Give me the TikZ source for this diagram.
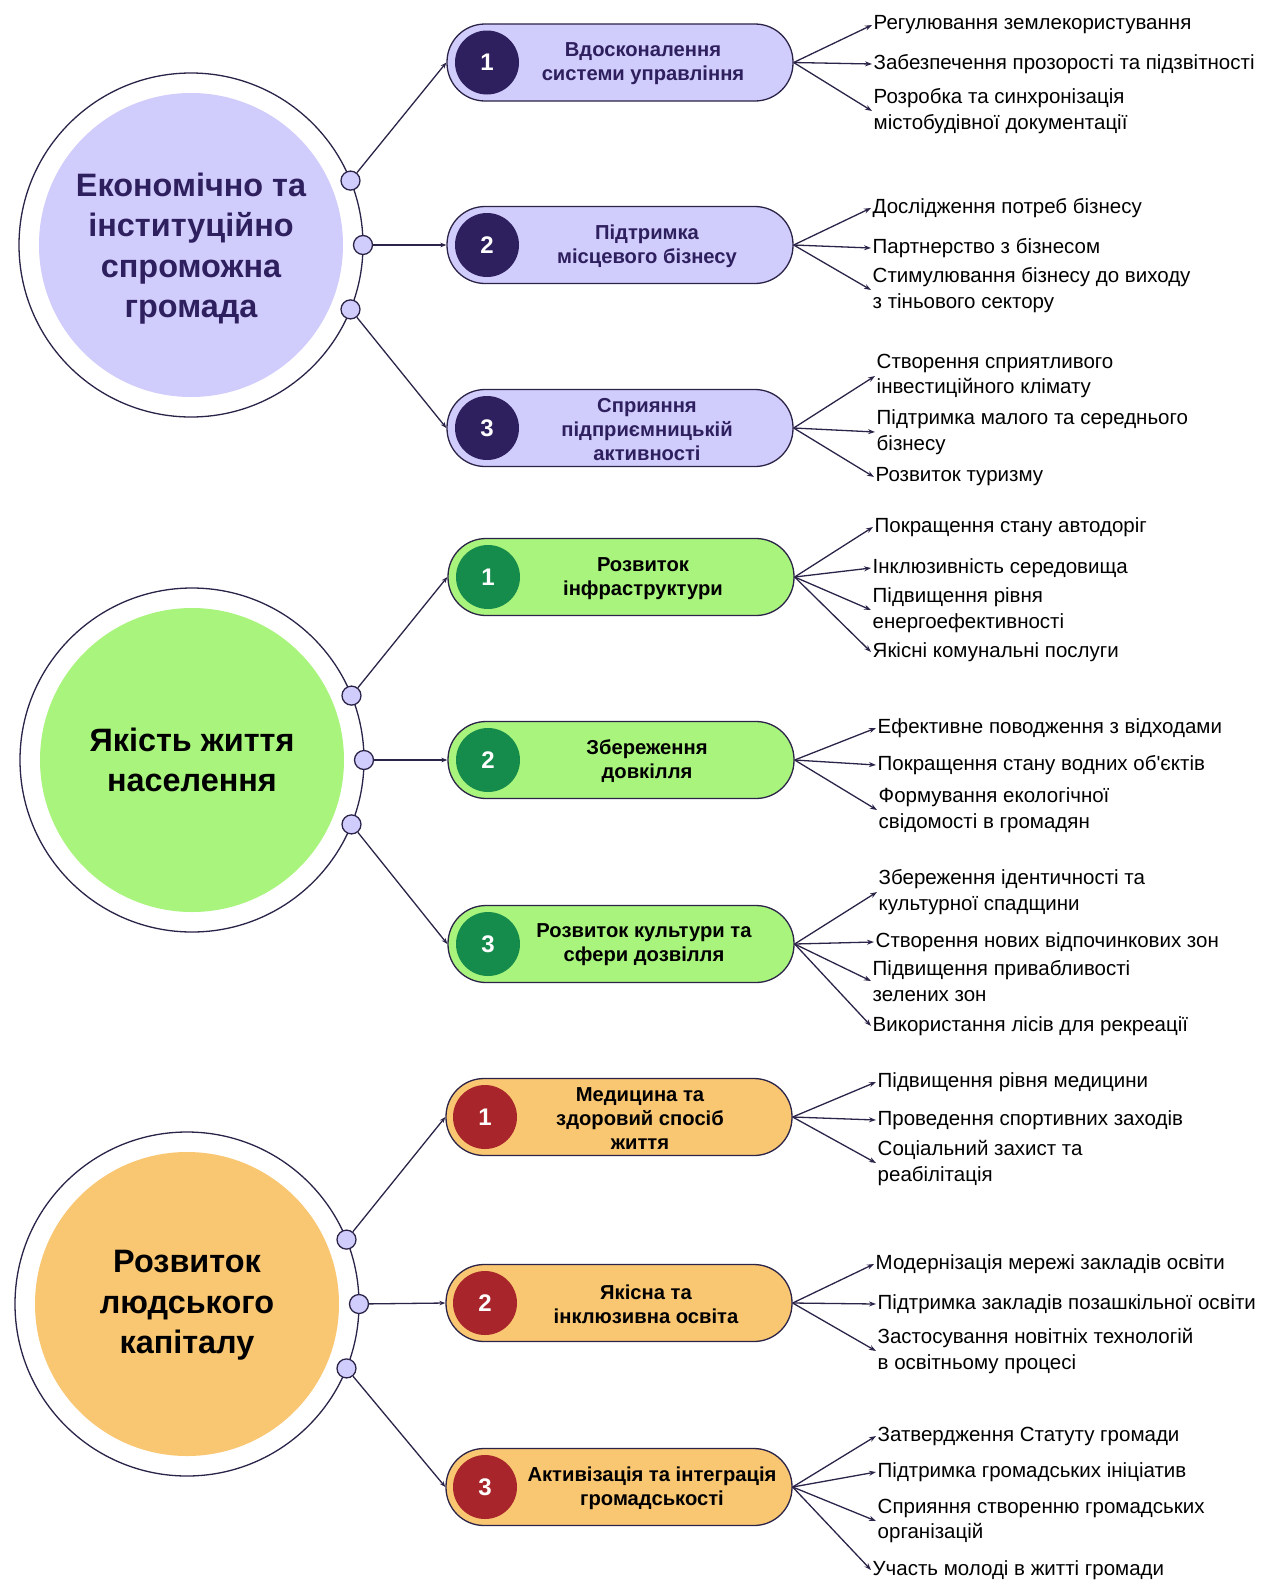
\documentclass[tikz,border=0pt]{standalone}
\usepackage{fontspec}
\setmainfont{Liberation Sans}
\usetikzlibrary{arrows.meta}

\definecolor{ink}{RGB}{43,35,72}
\definecolor{lav}{RGB}{208,204,251}
\definecolor{plum}{RGB}{46,31,94}
\definecolor{lime}{RGB}{168,244,124}
\definecolor{forest}{RGB}{22,140,76}
\definecolor{apricot}{RGB}{249,198,114}
\definecolor{brick}{RGB}{168,38,43}

\begin{document}
\begin{tikzpicture}[x=1pt,y=-1pt,
  ring/.style={circle, draw=ink, line width=1.3pt, fill=white, minimum size=344pt, inner sep=0pt},
  core/.style={circle, minimum size=304pt, inner sep=0pt},
  coretext/.style={align=center, inner sep=0pt, font=\fontsize{32.4}{40.5}\selectfont\bfseries},
  dot/.style={circle, draw=ink, line width=1.3pt, fill=lav, minimum size=19pt, inner sep=0pt},
  pill/.style={rectangle, rounded corners=38pt, draw=ink, line width=1.3pt, minimum width=346pt, minimum height=77pt, inner sep=0pt},
  num/.style={circle, minimum size=64pt, inner sep=0pt, text=white, font=\fontsize{24}{28}\selectfont\bfseries},
  ptext/.style={align=center, inner sep=0pt, font=\fontsize{20.2}{24}\selectfont\bfseries},
  item/.style={anchor=west, align=left, inner sep=1.5pt, font=\fontsize{20.5}{25.5}\selectfont},
  conn/.style={draw=ink, line width=1.3pt, -{Stealth[length=7pt,width=5pt]}},
  link/.style={draw=ink, line width=1.3pt, -{Stealth[length=6pt,width=4.5pt]}}
]
\useasboundingbox (0,0) rectangle (1269,1585);

% ---------- Block A: economic and institutional capacity ----------
\node[ring] (ringA) at (191,245) {};
\node[core, fill=lav] (coreA) at (191,245) {};
\node[coretext, text=plum] (tA) at (191,248.5) {Економічно та\\інституційно\\спроможна\\громада};
\node[dot] (dA1) at (350.5,180.6) {};
\node[dot] (dA2) at (363,245) {};
\node[dot] (dA3) at (350.5,309.4) {};

\node[pill, fill=lav] (A1) at (620,62.5) {};
\node[pill, fill=lav] (A2) at (620,245) {};
\node[pill, fill=lav] (A3) at (620,428) {};
\node[num, fill=plum] (nA1) at (487,62.5) {1};
\node[num, fill=plum] (nA2) at (487,245) {2};
\node[num, fill=plum] (nA3) at (487,428) {3};
\node[ptext, text=plum] (pA1) at (643,64) {Вдосконалення\\системи управління};
\node[ptext, text=plum] (pA2) at (647,246) {Підтримка\\місцевого бізнесу};
\node[ptext, text=plum] (pA3) at (647,429.5) {Сприяння\\підприємницькій\\активності};

\draw[link] (dA1) -- (A1.west);
\draw[link] (dA2) -- (A2.west);
\draw[link] (dA3) -- (A3.west);

\node[item] (a11) at (872,25) {Регулювання землекористування};
\node[item] (a12) at (872,64) {Забезпечення прозорості та підзвітності};
\node[item] (a13) at (872,111) {Розробка та синхронізація\\містобудівної документації};
\node[item] (a21) at (871,208) {Дослідження потреб бізнесу};
\node[item] (a22) at (871,248) {Партнерство з бізнесом};
\node[item] (a23) at (871,290) {Стимулювання бізнесу до виходу\\з тіньового сектору};
\node[item] (a31) at (875,376) {Створення сприятливого\\інвестиційного клімату};
\node[item] (a32) at (875,432) {Підтримка малого та середнього\\бізнесу};
\node[item] (a33) at (874,477) {Розвиток туризму};
\foreach \s in {a11,a12,a13} \draw[conn] (A1.east) -- (\s.west);
\foreach \s in {a21,a22,a23} \draw[conn] (A2.east) -- (\s.west);
\foreach \s in {a31,a32,a33} \draw[conn] (A3.east) -- (\s.west);

% ---------- Block B: quality of life ----------
\node[ring] (ringB) at (192,760) {};
\node[core, fill=lime] (coreB) at (192,760) {};
\node[coretext, text=black] (tB) at (192,760) {Якість життя\\населення};
\node[dot] (dB1) at (351.5,695.6) {};
\node[dot] (dB2) at (364,760) {};
\node[dot] (dB3) at (351.5,824.4) {};

\node[pill, fill=lime] (B1) at (621,577) {};
\node[pill, fill=lime] (B2) at (621,760) {};
\node[pill, fill=lime] (B3) at (621,944) {};
\node[num, fill=forest] (nB1) at (488,577) {1};
\node[num, fill=forest] (nB2) at (488,760) {2};
\node[num, fill=forest] (nB3) at (488,944) {3};
\node[ptext] (pB1) at (643,579) {Розвиток\\інфраструктури};
\node[ptext] (pB2) at (647,761) {Збереження\\довкілля};
\node[ptext] (pB3) at (644,945) {Розвиток культури та\\сфери дозвілля};

\draw[link] (dB1) -- (B1.west);
\draw[link] (dB2) -- (B2.west);
\draw[link] (dB3) -- (B3.west);

\node[item] (b11) at (873,527) {Покращення стану автодоріг};
\node[item] (b12) at (871,568) {Інклюзивність середовища};
\node[item] (b13) at (871,610) {Підвищення рівня\\енергоефективності};
\node[item] (b14) at (871,652) {Якісні комунальні послуги};
\node[item] (b21) at (876,728) {Ефективне поводження з відходами};
\node[item] (b22) at (876,765) {Покращення стану водних об\textquotesingle єктів};
\node[item] (b23) at (877,810) {Формування екологічної\\свідомості в громадян};
\node[item] (b31) at (877,892) {Збереження ідентичності та\\культурної спадщини};
\node[item] (b32) at (874,942) {Створення нових відпочинкових зон};
\node[item] (b33) at (871,981) {Підвищення привабливості\\зелених зон};
\node[item] (b34) at (871,1026) {Використання лісів для рекреації};
\foreach \s in {b11,b12,b13,b14} \draw[conn] (B1.east) -- (\s.west);
\foreach \s in {b21,b22,b23} \draw[conn] (B2.east) -- (\s.west);
\foreach \s in {b31,b32,b33,b34} \draw[conn] (B3.east) -- (\s.west);

% ---------- Block C: human capital ----------
\node[ring] (ringC) at (187,1304) {};
\node[core, fill=apricot] (coreC) at (187,1304) {};
\node[coretext, text=black] (tC) at (187,1305.5) {Розвиток\\людського\\капіталу};
\node[dot] (dC1) at (346.5,1239.6) {};
\node[dot] (dC2) at (359,1304) {};
\node[dot] (dC3) at (346.5,1368.4) {};

\node[pill, fill=apricot] (C1) at (619,1117) {};
\node[pill, fill=apricot] (C2) at (619,1303) {};
\node[pill, fill=apricot] (C3) at (619,1487) {};
\node[num, fill=brick] (nC1) at (485,1117) {1};
\node[num, fill=brick] (nC2) at (485,1303) {2};
\node[num, fill=brick] (nC3) at (485,1487) {3};
\node[ptext] (pC1) at (640,1118.5) {Медицина та\\здоровий спосіб\\життя};
\node[ptext] (pC2) at (646,1304) {Якісна та\\інклюзивна освіта};
\node[ptext] (pC3) at (652,1488) {Активізація та інтеграція\\громадськості};

\draw[link] (dC1) -- (C1.west);
\draw[link] (dC2) -- (C2.west);
\draw[link] (dC3) -- (C3.west);

\node[item] (c11) at (876,1082) {Підвищення рівня медицини};
\node[item] (c12) at (876,1120) {Проведення спортивних заходів};
\node[item] (c13) at (876,1163) {Соціальний захист та\\реабілітація};
\node[item] (c21) at (874,1264) {Модернізація мережі закладів освіти};
\node[item] (c22) at (876,1304) {Підтримка закладів позашкільної освіти};
\node[item] (c23) at (876,1351) {Застосування новітніх технологій\\в освітньому процесі};
\node[item] (c31) at (876,1436) {Затвердження Статуту громади};
\node[item] (c32) at (876,1472) {Підтримка громадських ініціатив};
\node[item] (c33) at (876,1521) {Сприяння створенню громадських\\організацій};
\node[item] (c34) at (871,1570) {Участь молоді в житті громади};
\foreach \s in {c11,c12,c13} \draw[conn] (C1.east) -- (\s.west);
\foreach \s in {c21,c22,c23} \draw[conn] (C2.east) -- (\s.west);
\foreach \s in {c31,c32,c33,c34} \draw[conn] (C3.east) -- (\s.west);
\end{tikzpicture}
\end{document}
